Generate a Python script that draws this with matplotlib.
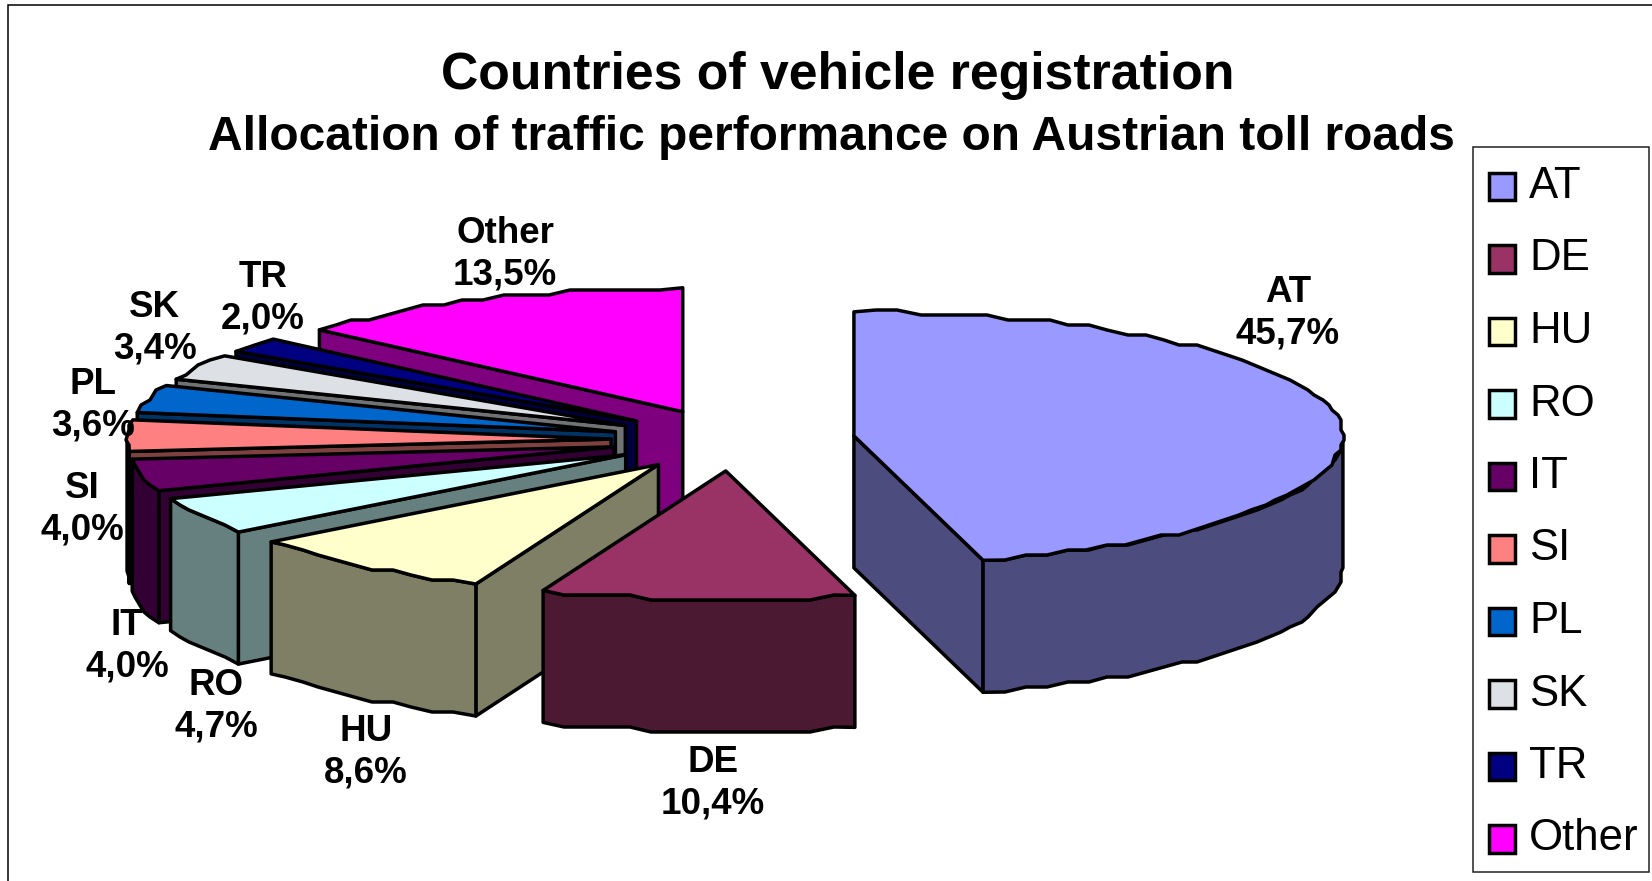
import numpy as np
import matplotlib
matplotlib.use("Agg")
import matplotlib.pyplot as plt
from matplotlib.patches import Polygon, Patch, Rectangle

plt.rcParams['font.family'] = ['Liberation Sans', 'DejaVu Sans']

countries = ["AT", "DE", "HU", "RO", "IT", "SI", "PL", "SK", "TR", "Other"]
shares = [45.7, 10.4, 8.6, 4.7, 4.0, 4.0, 3.6, 3.4, 2.0, 13.5]
share_labels = ["45,7%", "10,4%", "8,6%", "4,7%", "4,0%", "4,0%", "3,6%", "3,4%", "2,0%", "13,5%"]

top_colors = ["#9999FF", "#993366", "#FFFFCC", "#CCFFFF", "#660066",
              "#FF8080", "#0066CC", "#DDE1E6", "#000080", "#FF00FF"]
side_colors = ["#4C4C7F", "#4C1933", "#7F7F66", "#667F7F", "#330033",
               "#7F4040", "#003366", "#707274", "#000040", "#7F007F"]

# label centres, in picture pixels
label_x = [1288, 713, 366, 216, 127, 82, 93, 155, 263, 505]
label_y = [313, 783, 752, 706, 646, 509, 405, 328, 298, 254]

# pie shape, in picture pixels (the original is a bit lopsided)
CX, CY = 733, 440
RX_RIGHT, RX_LEFT = 489, 484
RY_BACK, RY_FRONT = 124, 129
EXPLODE_X, EXPLODE_Y = 122, 31
DEPTH = 132
LW = 2.5


def rim_point(ox, oy, deg):
    t = np.radians(deg)
    sx, cy = np.sin(t), np.cos(t)
    rx = RX_RIGHT if sx > 0 else RX_LEFT
    ry = RY_BACK if cy > 0 else RY_FRONT
    return ox + rx * sx, oy - ry * cy


def rim(ox, oy, d1, d2):
    # the original has a rough, wobbly rim, so snap the samples a bit
    n = max(int((d2 - d1) / 2.6), 1)
    pts = [rim_point(ox, oy, d) for d in np.linspace(d1, d2, n + 1)]
    out = [pts[0]]
    for x, y in pts[1:-1]:
        out.append((round(x / 3) * 3, round(y / 5) * 5))
    out.append(pts[-1])
    return out


def face(ax, pts, color, z):
    ax.add_patch(Polygon(pts, closed=True, facecolor=color, edgecolor="black",
                         lw=LW, joinstyle="round", zorder=z))


fig = plt.figure(figsize=(16.52, 8.81), dpi=100)
ax = fig.add_axes([0, 0, 1, 1])
ax.set_xlim(0, 1652)
ax.set_ylim(881, 0)
ax.axis("off")

# chart border, runs off the picture on the right and at the bottom
ax.add_patch(Rectangle((8, 5), 1700, 900, facecolor="white", edgecolor="black", lw=1.1, zorder=0))

total = sum(shares)
ends = np.cumsum(shares) / total * 360
starts = np.concatenate([[0], ends[:-1]])

# painter's order: Other at the back, then round to AT
order = [9, 8, 7, 6, 5, 4, 3, 2, 1, 0]
z = 2
for i in order:
    d1, d2 = starts[i], ends[i]
    mid = np.radians((d1 + d2) / 2)
    ox = CX + EXPLODE_X * np.sin(mid)
    oy = CY - EXPLODE_Y * np.cos(mid)
    p1 = rim_point(ox, oy, d1)
    p2 = rim_point(ox, oy, d2)

    # radial cut faces that look towards the viewer
    if d1 > 180:
        face(ax, [(ox, oy), p1, (p1[0], p1[1] + DEPTH), (ox, oy + DEPTH)], side_colors[i], z)
    if d2 < 180:
        face(ax, [(ox, oy), p2, (p2[0], p2[1] + DEPTH), (ox, oy + DEPTH)], side_colors[i], z)

    # outer wall, front half only
    a, b = max(d1, 90), min(d2, 270)
    if a < b:
        edge = rim(ox, oy, a, b)
        face(ax, edge + [(x, y + DEPTH) for x, y in edge[::-1]], side_colors[i], z)

    face(ax, [(ox, oy)] + rim(ox, oy, d1, d2), top_colors[i], z)
    z += 1

for name, val, x, y in zip(countries, share_labels, label_x, label_y):
    ax.text(x, y, name + "\n" + val, ha="center", va="center", fontsize=26.5,
            fontweight="bold", linespacing=1.24, zorder=30)

ax.text(838, 76, "Countries of vehicle registration", ha="center", va="center",
        fontsize=37.3, fontweight="bold", zorder=30)
ax.text(831, 138, "Allocation of traffic performance on Austrian toll roads", ha="center",
        va="center", fontsize=34.5, fontweight="bold", zorder=30)

# legend: box first, then the entries without their own frame
ax.add_patch(Rectangle((1473, 147), 176, 725, facecolor="white", edgecolor="#222222",
                       lw=1.1, zorder=20))
handles = [Patch(facecolor=c, edgecolor="black", lw=LW) for c in top_colors]
leg = ax.legend(handles, countries, loc="upper left", bbox_to_anchor=(1489, 170),
                bbox_transform=ax.transData, frameon=False, fontsize=31.5, borderpad=0,
                borderaxespad=0, handlelength=0.6, handleheight=0.6, handletextpad=0.32,
                labelspacing=0.72)
leg.set_zorder(25)
# names sit a little above their swatches
for t in leg.get_texts():
    t.set_y(4)

fig.savefig("out.png", dpi=100)
